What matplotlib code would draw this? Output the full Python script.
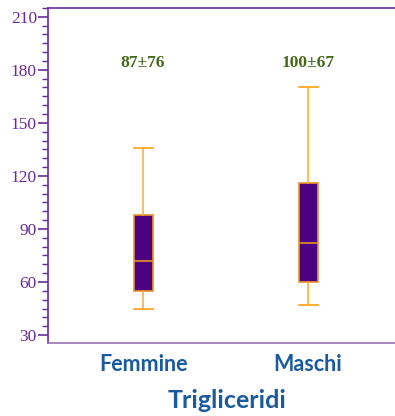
import matplotlib
matplotlib.use("Agg")
import matplotlib.pyplot as plt
from matplotlib.ticker import MultipleLocator

# ----------------------------------------------------------------------
# Data (mg/dl)
# ----------------------------------------------------------------------
GROUPS = ["Femmine", "Maschi"]
WHISK_LO = [45, 47]
Q1 = [55, 60]
MEDIAN = [72, 82]
Q3 = [98, 116]
WHISK_HI = [136, 170]
MEAN_SD_LABELS = ["87±76", "100±67"]
LABEL_Y = 184
Y_TICKS = [30, 60, 90, 120, 150, 180, 210]

PURPLE = "#6a2c9a"
BOX_FILL = "#4b0082"
ORANGE = "#ffa824"
BOX_EDGE = "#e8922a"
GREEN = "#44691a"
BLUE = "#1a5a9e"

stats = []
for i, g in enumerate(GROUPS):
    stats.append({
        "label": g,
        "whislo": WHISK_LO[i],
        "q1": Q1[i],
        "med": MEDIAN[i],
        "q3": Q3[i],
        "whishi": WHISK_HI[i],
        "fliers": [],
    })

fig = plt.figure(figsize=(3.95, 4.16), dpi=100)
ax = fig.add_axes([0.1215, 0.1755, 0.8785, 0.8055])

positions = [1, 2]
ax.bxp(stats, positions=positions, widths=0.115, patch_artist=True,
       showfliers=False,
       boxprops=dict(facecolor=BOX_FILL, edgecolor=BOX_EDGE, linewidth=1.2),
       medianprops=dict(color=BOX_EDGE, linewidth=1.2),
       whiskerprops=dict(color=ORANGE, linewidth=1.1),
       capprops=dict(color=ORANGE, linewidth=1.3),
       capwidths=0.115)

for p, txt in zip(positions, MEAN_SD_LABELS):
    ax.text(p, LABEL_Y, txt, ha="center", va="center", color=GREEN,
            fontsize=12.5, fontweight="bold", family="Liberation Serif")

ax.set_xlim(0.424, 2.527)
ax.set_ylim(25.5, 215)
ax.set_yticks(Y_TICKS)
ax.set_yticklabels([str(t) for t in Y_TICKS],
                   family="Liberation Serif", fontsize=12.5, color=PURPLE)
ax.yaxis.set_minor_locator(MultipleLocator(5))
ax.tick_params(axis="y", which="major", length=7, width=1.2, color=PURPLE, pad=1)
ax.tick_params(axis="y", which="minor", length=4, width=1.0, color=PURPLE)

ax.set_xticks(positions)
ax.set_xticklabels(GROUPS, family="Lato", fontsize=15.5, fontweight="bold",
                   color=BLUE)
ax.tick_params(axis="x", length=0, pad=8)

for side in ["left", "top", "bottom"]:
    ax.spines[side].set_color(PURPLE)
    ax.spines[side].set_linewidth(1.2)
ax.spines["right"].set_visible(False)
ax.spines["bottom"].set_color("#9a72b8")

fig.text(0.575, 0.038, "Trigliceridi", ha="center", va="center",
         family="Lato", fontsize=18, fontweight="bold", color=BLUE)

fig.savefig("out.png", dpi=100)
